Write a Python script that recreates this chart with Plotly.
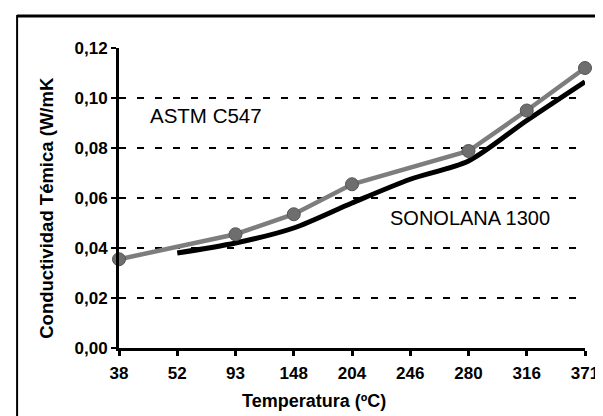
import plotly.graph_objects as go

temperaturas = ["38", "52", "93", "148", "204", "246", "280", "316", "371"]
astm_c547 = [0.0355, None, 0.0455, 0.0535, 0.0655, None, 0.0788, 0.0950, 0.1120]
sonolana_1300 = [None, 0.0380, 0.0420, 0.0480, 0.0580, 0.0675, 0.0748, 0.0910, 0.1065]
y_ticks = [0.00, 0.02, 0.04, 0.06, 0.08, 0.10, 0.12]

FONT = "Liberation Sans, Arial, sans-serif"

fig = go.Figure()
fig.add_trace(go.Scatter(
    x=temperaturas, y=sonolana_1300, mode="lines", name="SONOLANA 1300",
    line=dict(color="#000000", width=5, shape="spline", smoothing=0.8),
    connectgaps=True, cliponaxis=False, showlegend=False,
))
fig.add_trace(go.Scatter(
    x=temperaturas, y=astm_c547, mode="lines+markers", name="ASTM C547",
    line=dict(color="#7d7d7d", width=4.5),
    marker=dict(color="#6e6e6e", size=13, line=dict(color="#555555", width=1)),
    connectgaps=True, cliponaxis=False, showlegend=False,
))

fig.update_layout(
    width=603, height=416,
    margin=dict(l=111, r=21, t=40, b=76),
    paper_bgcolor="white", plot_bgcolor="white",
    separators=",.",
    font=dict(family=FONT, color="black"),
    xaxis=dict(
        type="category", range=[0, 8],
        showgrid=False, zeroline=False,
        showline=True, linecolor="black", linewidth=3,
        ticks="outside", ticklen=5, tickwidth=3, tickcolor="black",
        tickfont=dict(family=FONT, size=17, color="black", weight="bold"),
        ticklabelstandoff=3,
    ),
    yaxis=dict(
        range=[0, 0.12], tickvals=y_ticks, tickformat=".2f",
        showgrid=True, gridcolor="black", gridwidth=2, griddash="7px,11px",
        zeroline=False,
        showline=True, linecolor="black", linewidth=3,
        ticks="outside", ticklen=5, tickwidth=2, tickcolor="black",
        tickfont=dict(family=FONT, size=17, color="black", weight="bold"),
    ),
    annotations=[
        dict(text="ASTM C547", xref="paper", yref="paper",
             x=(199 - 111) / 471, y=(340 - 107) / 300, showarrow=False,
             xanchor="center", yanchor="middle",
             font=dict(family=FONT, size=20.5, color="black")),
        dict(text="SONOLANA 1300", xref="paper", yref="paper",
             x=(466 - 111) / 471, y=(340 - 210) / 300, showarrow=False,
             xanchor="center", yanchor="middle",
             font=dict(family=FONT, size=20, color="black")),
        dict(text="Temperatura (ºC)", xref="paper", yref="paper",
             x=(308 - 111) / 471, y=(340 - 393) / 300, showarrow=False,
             xanchor="center", yanchor="middle",
             font=dict(family=FONT, size=18, color="black", weight="bold")),
        dict(text="Conductividad Témica (W/mK", xref="paper", yref="paper",
             x=(37 - 111) / 471, y=(340 - 200) / 300, showarrow=False,
             textangle=-90, xanchor="center", yanchor="middle",
             font=dict(family=FONT, size=18.5, color="black", weight="bold")),
    ],
    shapes=[
        dict(type="line", xref="paper", yref="paper",
             x0=(8 - 111) / 471, x1=(620 - 111) / 471,
             y0=(340 - 8) / 300, y1=(340 - 8) / 300,
             line=dict(color="black", width=3)),
        dict(type="line", xref="paper", yref="paper",
             x0=(8 - 111) / 471, x1=(8 - 111) / 471,
             y0=(340 - 7) / 300, y1=(340 - 420) / 300,
             line=dict(color="black", width=2)),
    ],
)

fig.write_html("out.html")
